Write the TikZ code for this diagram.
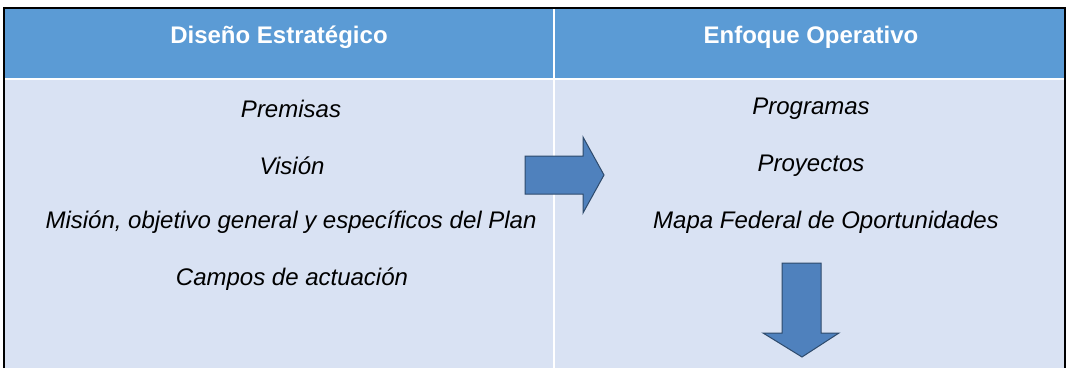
\documentclass[tikz,border=0pt]{standalone}
\usepackage{fontspec}
\setmainfont{Liberation Sans}
\definecolor{cabecera}{HTML}{5B9BD5}
\definecolor{cuerpo}{HTML}{D9E2F3}
\definecolor{flecha}{HTML}{4F81BD}
\definecolor{bordeflecha}{HTML}{2E4A6B}
\tikzset{
  titulo/.style={text=white, font=\fontsize{24}{28}\selectfont\bfseries},
  item/.style={font=\fontsize{24}{28}\selectfont\itshape},
  bloque/.style={fill=flecha, draw=bordeflecha, line width=1pt, line join=miter}
}

\begin{document}
\begin{tikzpicture}[x=1pt, y=-1pt]
\useasboundingbox (0,0) rectangle (1066,368);
% Table background
    \fill[cuerpo] (4,8) rectangle (1065,368);
    \fill[cabecera] (4,8) rectangle (1065,78);
    \draw[white, line width=1.5pt] (4,79) -- (1065,79);
    \draw[white, line width=1.5pt] (554,8) -- (554,368);
    \draw[line width=1.2pt] (4,368) -- (4,8) -- (1065,8) -- (1065,368);
% Headers
    \node[titulo] (disenio) at (279,37) {Diseño Estratégico};
    \node[titulo] (enfoque) at (811,37) {Enfoque Operativo};
% Left column
    \node[item] (premisas) at (291,109) {Premisas};
    \node[item] (vision) at (292,166) {Visión};
    \node[item] (mision) at (291,222) {Misión, objetivo general y específicos del Plan};
    \node[item] (campos) at (292,279) {Campos de actuación};
% Right column
    \node[item] (programas) at (811,109) {Programas};
    \node[item] (proyectos) at (811,166) {Proyectos};
    \node[item] (mapa) at (826,222) {Mapa Federal de Oportunidades};
% Block arrows
    \draw[bloque] (525,156) -- (583,156) -- (583,137) -- (604,175) -- (583,213)
        -- (583,194) -- (525,194) -- cycle;
    \draw[bloque] (782,263) -- (821,263) -- (821,333) -- (839,333) -- (802,357)
        -- (763,333) -- (782,333) -- cycle;
\end{tikzpicture}
\end{document}
